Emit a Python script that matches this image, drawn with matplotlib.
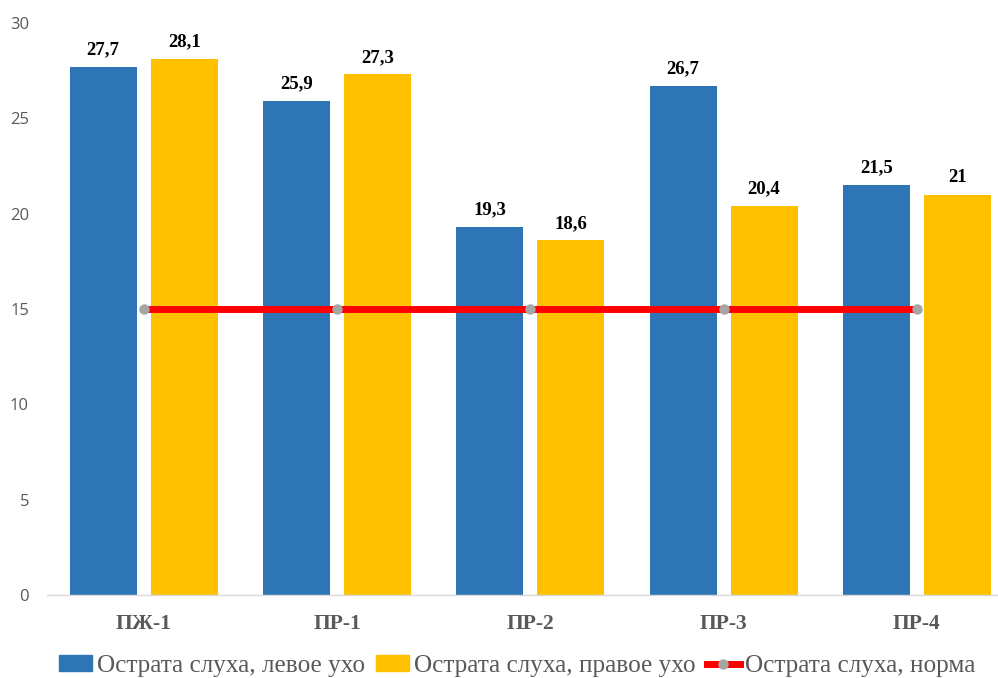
import matplotlib
matplotlib.use("Agg")
import matplotlib.pyplot as plt
import numpy as np
from matplotlib.lines import Line2D
from matplotlib.patches import Patch

categories = ["ПЖ-1", "ПР-1", "ПР-2", "ПР-3", "ПР-4"]
left_ear = [27.7, 25.9, 19.3, 26.7, 21.5]
right_ear = [28.1, 27.3, 18.6, 20.4, 21.0]
norm = [15, 15, 15, 15, 15]
left_labels = ["27,7", "25,9", "19,3", "26,7", "21,5"]
right_labels = ["28,1", "27,3", "18,6", "20,4", "21"]
series_names = ["Острата слуха, левое ухо", "Острата слуха, правое ухо", "Острата слуха, норма"]
yticks = [0, 5, 10, 15, 20, 25, 30]

BLUE = "#2E75B6"
YELLOW = "#FFC000"
RED = "#FF0000"
GREY_M = "#A5A5A5"
TXT = "#595959"

W, H = 998, 678
fig = plt.figure(figsize=(W / 100, H / 100), dpi=100)
ax_left = 47
cat_w = 193.3
ax_bottom = 595
ax_top = 23
ax = fig.add_axes([ax_left / W, 1 - ax_bottom / H, 5 * cat_w / W, (ax_bottom - ax_top) / H])

x = np.arange(len(categories))
bw = 67 / cat_w
gap = 14 / cat_w
off = bw / 2 + gap / 2

ax.bar(x - off, left_ear, width=bw, color=BLUE, zorder=2)
ax.bar(x + off, right_ear, width=bw, color=YELLOW, zorder=2)
ax.plot(x, norm, color=RED, lw=5, marker="o", markersize=6.5,
        markerfacecolor=GREY_M, markeredgecolor=GREY_M, zorder=3, solid_capstyle="butt")

for xi, v, lab in zip(x - off, left_ear, left_labels):
    ax.annotate(lab, (xi, v), xytext=(0, 9), textcoords="offset points",
                ha="center", va="baseline", fontsize=13.5, fontweight="bold",
                family="Liberation Serif", color="black")
for xi, v, lab in zip(x + off, right_ear, right_labels):
    ax.annotate(lab, (xi, v), xytext=(0, 9), textcoords="offset points",
                ha="center", va="baseline", fontsize=13.5, fontweight="bold",
                family="Liberation Serif", color="black")

ax.set_xlim(-0.5, len(categories) - 0.5)
ax.set_ylim(0, 30)
ax.set_yticks(yticks)
ax.set_yticklabels([str(t) for t in yticks], family="Open Sans", fontsize=12, color=TXT)
ax.set_xticks(x)
ax.set_xticklabels(categories, family="Liberation Serif", fontweight="bold", fontsize=15.5, color=TXT)
ax.tick_params(axis="y", length=0, pad=13)
ax.tick_params(axis="x", length=0, pad=14)
for s in ["top", "right", "left"]:
    ax.spines[s].set_visible(False)
ax.spines["bottom"].set_color("#D9D9D9")
ax.spines["bottom"].set_linewidth(1)

handles = [Patch(color=BLUE), Patch(color=YELLOW),
           Line2D([0], [0], color=RED, lw=5, marker="o", markersize=6.5,
                  markerfacecolor=GREY_M, markeredgecolor=GREY_M)]
leg = fig.legend(handles, series_names, loc="center", bbox_to_anchor=(517 / W, 1 - 666 / H),
                 ncol=3, frameon=False, handlelength=1.3, handleheight=0.6, handletextpad=0.2,
                 columnspacing=0.45, prop={"family": "Liberation Serif", "size": 18.2})
for t in leg.get_texts():
    t.set_color(TXT)

fig.savefig("out.png", dpi=100)
